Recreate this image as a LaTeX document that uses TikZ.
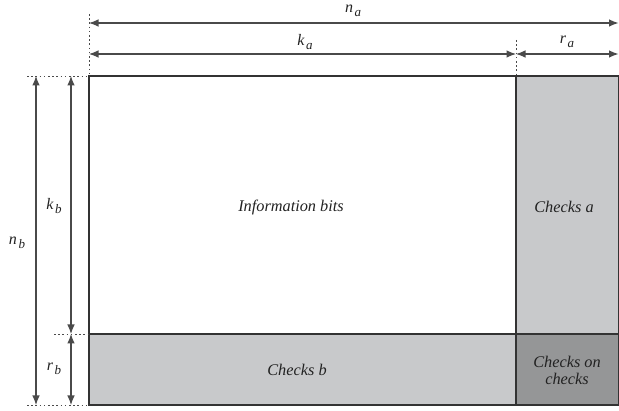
\documentclass[tikz,border=0pt]{standalone}
\usepackage{fontspec}
\setmainfont{Liberation Serif}
\usetikzlibrary{arrows.meta}
\newcommand\mysub[2]{\textit{#1}\kern1.5pt\raisebox{-0.5ex}{\fontsize{13}{13}\selectfont\textit{#2}}}
\definecolor{lightfill}{HTML}{C8C9CB}
\definecolor{darkfill}{HTML}{959697}
\definecolor{linegray}{HTML}{4A4A4A}
\definecolor{textgray}{HTML}{222222}
\begin{document}
\begin{tikzpicture}[x=1pt,y=-1pt,
  dim/.style={draw=linegray,line width=1.1pt,{Latex[length=9.5pt,width=7.5pt]}-{Latex[length=9.5pt,width=7.5pt]}},
  guide/.style={draw=linegray,line width=0.9pt,dash pattern=on 1.6pt off 2.6pt},
  region/.style={draw=black!80,line width=1.1pt},
  lbl/.style={text=textgray,font=\itshape\fontsize{16.3}{17}\selectfont,align=center,inner sep=0pt},
  dimlbl/.style={text=textgray,font=\fontsize{16}{17}\selectfont,inner sep=0pt}]
\useasboundingbox (0,0) rectangle (619,411);
% corner coordinates
\coordinate (TL) at (89,76);
\coordinate (TM) at (516,76);
\coordinate (TR) at (618.5,76);
\coordinate (ML) at (89,334);
\coordinate (MM) at (516,334);
\coordinate (MR) at (618.5,334);
\coordinate (BL) at (89,405);
\coordinate (BM) at (516,405);
\coordinate (BR) at (618.5,405);
% regions
\fill[lightfill] (TM) rectangle (MR);
\fill[lightfill] (ML) rectangle (BM);
\fill[darkfill] (MM) rectangle (BR);
\draw[region] (TL) rectangle (BR);
\draw[region] (TM) -- (BM);
\draw[region] (ML) -- (MR);
% guides
\coordinate (g1) at (89,14);
\coordinate (g2) at (516,40);
\coordinate (g3) at (27,76);
\coordinate (g4) at (54,334);
\coordinate (g5) at (27,405);
\draw[guide] (g1) -- (TL);
\draw[guide] (g2) -- (TM);
\draw[guide] (g3) -- (TL);
\draw[guide] (g4) -- (ML);
\draw[guide] (g5) -- (BL);
% dimension arrow ends
\coordinate (naL) at (89,23);
\coordinate (naR) at (618.5,23);
\coordinate (kaL) at (89,54);
\coordinate (kaR) at (516,54);
\coordinate (raR) at (618.5,54);
\coordinate (nbT) at (36,76);
\coordinate (nbB) at (36,405);
\coordinate (kbT) at (71,76);
\coordinate (kbB) at (71,334);
\coordinate (rbB) at (71,405);
\draw[dim] (naL) -- (naR);
\draw[dim] (kaL) -- (kaR);
\draw[dim] (kaR) -- (raR);
\draw[dim] (nbT) -- (nbB);
\draw[dim] (kbT) -- (kbB);
\draw[dim] (kbB) -- (rbB);
% dimension labels
\node[dimlbl] (na) at (353,11) {\mysub{n}{a}};
\node[dimlbl] (ka) at (305,42) {\mysub{k}{a}};
\node[dimlbl] (ra) at (567,42) {\mysub{r}{a}};
\node[dimlbl] (nb) at (17,243) {\mysub{n}{b}};
\node[dimlbl] (kb) at (54,206) {\mysub{k}{b}};
\node[dimlbl] (rb) at (54,369) {\mysub{r}{b}};
% region labels
\node[lbl] (info) at (291,207) {Information bits};
\node[lbl] (cha) at (564,207) {Checks a};
\node[lbl] (chb) at (297,370) {Checks b};
\node[lbl] (chc) at (567,370) {Checks on\\checks};
\end{tikzpicture}
\end{document}
